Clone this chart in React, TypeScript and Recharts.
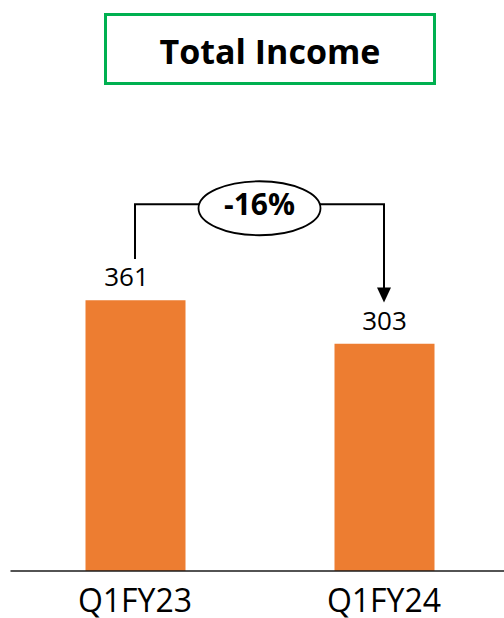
import React from 'react';
import { BarChart, Bar, XAxis, YAxis, ReferenceLine, LabelList } from 'recharts';

const title = 'Total Income';
const categories = ['Q1FY23', 'Q1FY24'];
const totalIncome = [361, 303];
const changeLabel = '-16%';

const data = categories.map((c, i) => ({ name: c, value: totalIncome[i] }));

// layout constants (data units for the bracket)
const Y_MAX = 500;
const BRACKET_LEVEL = 489;
const LEG_GAP = 55;
const FONT = '"Open Sans", sans-serif';

const ValueLabel = (props: any) => {
  const { x, y, width, value, index } = props;
  const shift = index === 0 ? -9 : 0;
  return (
    <text x={x + width / 2 + shift} y={y - 14} textAnchor="middle" fontFamily={FONT} fontSize={26} fill="#000">
      {value}
    </text>
  );
};

const CategoryTick = (props: any) => {
  const { x, y, payload } = props;
  return (
    <text x={x} y={y} dy={41} textAnchor="middle" fontFamily={FONT} fontSize={32} fill="#000">
      {payload.value}
    </text>
  );
};

const LeftLeg = (props: any) => {
  const { x1, y1, x2, y2 } = props;
  return <line x1={x1} y1={y1} x2={x2} y2={y2} stroke="#000" strokeWidth={2} />;
};

const TopBar = (props: any) => {
  const { x1, y1, x2, y2 } = props;
  const cx = (x1 + x2) / 2;
  const cy = (y1 + y2) / 2;
  return (
    <g>
      <line x1={x1 - 1} y1={y1} x2={x2 + 1} y2={y2} stroke="#000" strokeWidth={2} />
      <ellipse cx={cx} cy={cy + 4} rx={61} ry={27} fill="#fff" stroke="#000" strokeWidth={1.8} />
      <text x={cx} y={cy + 11} textAnchor="middle" fontFamily={FONT} fontWeight="bold" fontSize={30} fill="#000">
        {changeLabel}
      </text>
    </g>
  );
};

const RightLeg = (props: any) => {
  const { x1, y1, x2, y2 } = props;
  const head = 15;
  return (
    <g>
      <line x1={x1} y1={y1} x2={x2} y2={y2 - head + 1} stroke="#000" strokeWidth={2} />
      <polygon points={`${x2 - 7},${y2 - head} ${x2 + 7},${y2 - head} ${x2},${y2}`} fill="#000" />
    </g>
  );
};

export default function App() {
  return (
    <div style={{ position: 'absolute', left: 0, top: 0, width: 504, height: 618, overflow: 'hidden', background: '#fff' }}>
      <div
        style={{
          position: 'absolute',
          left: 104,
          top: 13,
          width: 332,
          height: 72,
          boxSizing: 'border-box',
          border: '3px solid #00B050',
          display: 'flex',
          alignItems: 'center',
          justifyContent: 'center',
          fontFamily: FONT,
          fontWeight: 700,
          fontSize: 34,
          color: '#000',
          paddingTop: 4,
        }}
      >
        {title}
      </div>
      <BarChart
        width={511}
        height={618}
        data={data}
        margin={{ top: 196, right: 2.5, bottom: 0, left: 10.5 }}
        barCategoryGap={0}
      >
        <XAxis
          dataKey="name"
          height={47}
          tickLine={false}
          tickSize={0}
          tickMargin={0}
          axisLine={{ stroke: '#1a1a1a', strokeWidth: 1.5 }}
          tick={<CategoryTick />}
          interval={0}
        />
        <YAxis hide domain={[0, Y_MAX]} />
        <Bar dataKey="value" fill="#ED7D31" barSize={100} isAnimationActive={false}>
          <LabelList dataKey="value" content={<ValueLabel />} />
        </Bar>
        <ReferenceLine
          segment={[{ x: categories[0], y: totalIncome[0] + LEG_GAP }, { x: categories[0], y: BRACKET_LEVEL }]}
          shape={<LeftLeg />}
        />
        <ReferenceLine
          segment={[{ x: categories[0], y: BRACKET_LEVEL }, { x: categories[1], y: BRACKET_LEVEL }]}
          shape={<TopBar />}
        />
        <ReferenceLine
          segment={[{ x: categories[1], y: BRACKET_LEVEL }, { x: categories[1], y: totalIncome[1] + LEG_GAP }]}
          shape={<RightLeg />}
        />
      </BarChart>
    </div>
  );
}
